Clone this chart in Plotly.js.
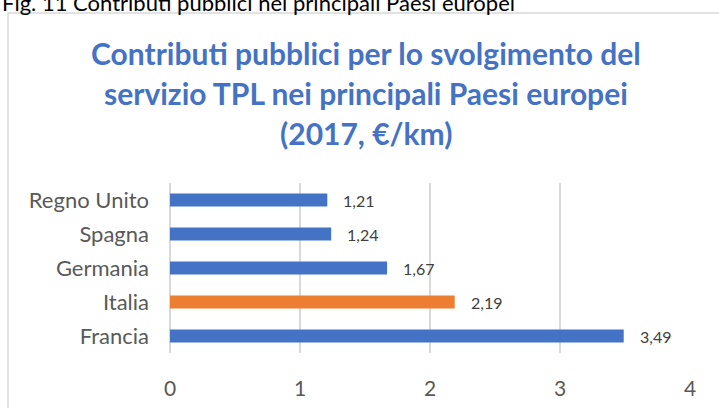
<!DOCTYPE html>
<html>
<head>
<meta charset="utf-8">
<script src="https://cdn.plot.ly/plotly-3.0.1.min.js"></script>
<style>html,body{margin:0;padding:0;background:#fff;}#chart{width:719px;height:408px;}</style>
</head>
<body>
<div id="chart"></div>
<script>
const categories = ['Francia', 'Italia', 'Germania', 'Spagna', 'Regno Unito'];
const values = [3.49, 2.19, 1.67, 1.24, 1.21];
const highlight = 'Italia';
const xTicks = [0, 1, 2, 3, 4];
const titleLines = ['Contributi pubblici per lo svolgimento del', 'servizio TPL nei principali Paesi europei', '(2017, €/km)'];
const figCaption = 'Fig. 11 Contributi pubblici nei principali Paesi europei';

const W = 719, H = 408;
const L = 170, R = 29, T = 183, B = 55;
const pw = W - L - R, ph = H - T - B;
const px2x = p => (p - L) / pw;
const py2y = p => (H - B - p) / ph;

const BLUE = '#4472C4', ORANGE = '#ED7D31';
const FONT = 'Lato, "Open Sans", sans-serif';

const fmt = v => v.toFixed(2).replace('.', ',');

const trace = {
  type: 'bar',
  orientation: 'h',
  y: categories,
  x: values,
  width: 0.38,
  marker: { color: categories.map(c => c === highlight ? ORANGE : BLUE) },
  hoverinfo: 'skip'
};

const annotations = [];
values.forEach((v, i) => {
  annotations.push({
    x: v, y: categories[i], xref: 'x', yref: 'y',
    text: fmt(v), showarrow: false, xanchor: 'left', yanchor: 'middle',
    xshift: 14, font: { family: FONT, size: 16, color: '#404040' }
  });
});
const titleBase = [62, 102, 142];
titleLines.forEach((t, i) => {
  annotations.push({
    x: px2x(366), y: py2y(titleBase[i] + 11), xref: 'paper', yref: 'paper',
    text: '<b>' + t + '</b>', showarrow: false, xanchor: 'center', yanchor: 'bottom',
    font: { family: FONT, size: 30, color: BLUE }
  });
});
annotations.push({
  x: px2x(0), y: py2y(18), xref: 'paper', yref: 'paper',
  text: figCaption, showarrow: false, xanchor: 'left', yanchor: 'bottom',
  font: { family: FONT, size: 22, color: '#000' }
});

const layout = {
  width: W, height: H,
  margin: { l: L, r: R, t: T, b: B, pad: 0 },
  paper_bgcolor: '#fff', plot_bgcolor: '#fff',
  showlegend: false,
  font: { family: FONT, color: '#595959' },
  xaxis: {
    range: [0, 4], tickvals: xTicks, ticktext: xTicks.map(String),
    showgrid: true, gridcolor: '#d9d9d9', gridwidth: 1.5,
    zeroline: true, zerolinecolor: '#d9d9d9', zerolinewidth: 1.5,
    showline: false, ticks: '', ticklabelstandoff: 21,
    tickfont: { family: FONT, size: 21, color: '#595959' },
    fixedrange: true
  },
  yaxis: {
    type: 'category', range: [-0.5, 4.5],
    showgrid: false, zeroline: false, showline: false, ticks: '',
    ticklabelstandoff: 20,
    tickfont: { family: FONT, size: 22, color: '#595959' },
    fixedrange: true
  },
  shapes: [{
    type: 'rect', xref: 'paper', yref: 'paper',
    x0: px2x(8), x1: px2x(740), y0: py2y(430), y1: py2y(13),
    line: { color: '#d9d9d9', width: 1.5 }, fillcolor: 'rgba(0,0,0,0)', layer: 'below'
  }],
  annotations: annotations
};

Plotly.newPlot('chart', [trace], layout, { displayModeBar: false, staticPlot: true });
</script>
</body>
</html>
